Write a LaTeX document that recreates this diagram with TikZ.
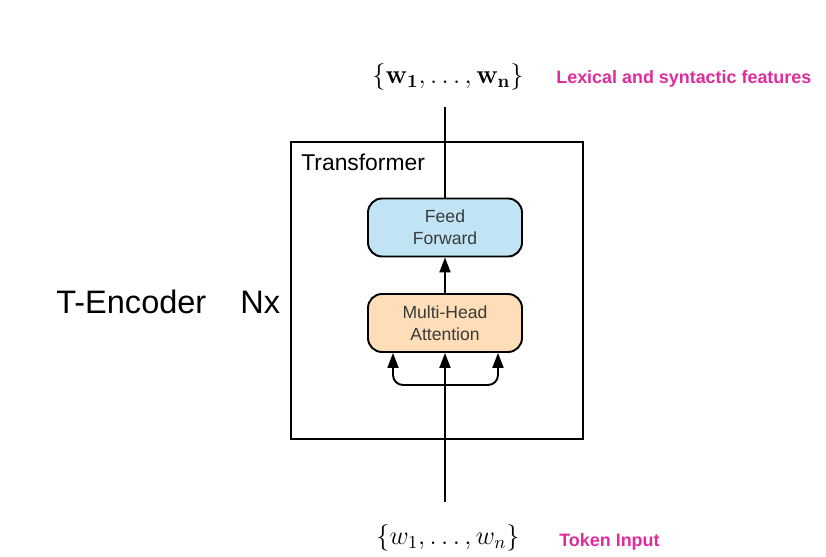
\RequirePackage{fix-cm}
\documentclass[tikz,border=0pt]{standalone}
\usepackage[no-math]{fontspec}
\setmainfont{Liberation Sans}
\usetikzlibrary{arrows.meta}

\definecolor{ffblue}{HTML}{C0E4F4}
\definecolor{mhorange}{HTML}{FDDEB8}
\definecolor{notepink}{HTML}{DD2C9C}
\definecolor{boxtext}{HTML}{3A3A3A}

\tikzset{
  layerbox/.style={draw, line width=1.1pt, rounded corners=0.28cm, minimum width=3.08cm,
    minimum height=1.16cm, align=center, text=boxtext, inner sep=0pt,
    font=\fontsize{10}{12.5}\selectfont},
  flow/.style={line width=1.1pt, arrows={-{Triangle[length=0.3cm,width=0.22cm]}}},
  wire/.style={line width=1.1pt},
  note/.style={text=notepink, anchor=base west, inner sep=0pt, font=\bfseries\fontsize{10.2}{12}\selectfont},
  wordset/.style={anchor=base, inner sep=0pt, font=\fontsize{15}{18}\selectfont},
}

\begin{document}
\begin{tikzpicture}[x=0.02cm,y=-0.02cm]
\useasboundingbox (0,0) rectangle (826,557);

% encoder block
\draw[wire] (291,142) rectangle (583,439);
\node[anchor=base west, inner sep=0pt, font=\fontsize{13}{15}\selectfont] (trlabel) at (301,171) {Transformer};
\node[anchor=base west, inner sep=0pt, font=\fontsize{18.5}{22}\selectfont] (enclabel) at (56,314) {T-Encoder};
\node[anchor=base west, inner sep=0pt, font=\fontsize{18.5}{22}\selectfont] (nxlabel) at (240,314) {Nx};

% layers
\node[layerbox, fill=ffblue] (ff) at (445,227.5) {Feed\\Forward};
\node[layerbox, fill=mhorange] (mha) at (445,323) {Multi-Head\\Attention};

% inputs and outputs
\node[wordset] (outwords) at (448,84) {$\{\mathbf{w}_\mathbf{1},\ldots,\mathbf{w}_\mathbf{n}\}$};
\node[note] (outnote) at (556,84) {Lexical and syntactic features};
\node[wordset] (inwords) at (448,545) {$\{w_1,\ldots,w_n\}$};
\node[note] (innote) at (559,547) {Token Input};

\coordinate (topend) at (445,107);
\coordinate (botend) at (445,502);
\coordinate (split) at (445,385);

\draw[flow] (botend) -- (mha.south);
\draw[flow, rounded corners=0.2cm] (split) -| ([xshift=-1.04cm]mha.south);
\draw[flow, rounded corners=0.2cm] (split) -| ([xshift=1.06cm]mha.south);
\draw[flow] (mha) -- (ff);
\draw[wire] (ff) -- (topend);
\end{tikzpicture}
\end{document}
